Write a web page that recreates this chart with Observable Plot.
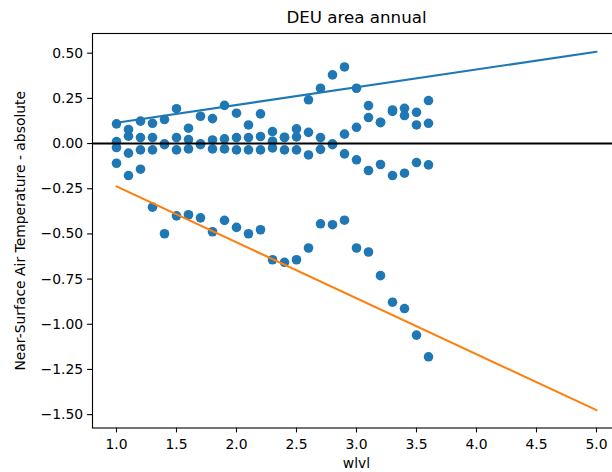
<!DOCTYPE html>
<html>
<head>
<meta charset="utf-8">
<script src="https://cdn.jsdelivr.net/npm/d3@7"></script>
<script src="https://cdn.jsdelivr.net/npm/@observablehq/plot@0.6"></script>
<style>
  html, body { margin: 0; padding: 0; background: #fff; overflow: hidden; }
  #chart { width: 612px; height: 472px; }
</style>
</head>
<body>
<div id="chart"></div>
<script>
const wlvl = [1.0,1.1,1.2,1.3,1.4,1.5,1.6,1.7,1.8,1.9,2.0,2.1,2.2,2.3,2.4,2.5,2.6,2.7,2.8,2.9,3.0,3.1,3.2,3.3,3.4,3.5,3.6];
const upper = [0.109,0.078,0.124,0.112,0.133,0.193,0.085,0.151,0.138,0.211,0.168,0.103,0.164,0.066,0.035,0.081,0.242,0.306,0.380,0.424,0.306,0.210,0.118,0.186,0.195,0.173,0.238];
const midPos = [0.011,0.041,0.033,0.033,-0.002,0.033,0.022,-0.002,0.020,0.026,0.033,0.033,0.039,0.013,0.033,0.037,0.062,0.033,-0.002,0.052,0.090,0.144,0.116,0.178,0.155,0.103,0.112];
const midNeg = [-0.022,-0.053,-0.035,-0.035,-0.006,-0.035,-0.030,-0.006,-0.030,-0.030,-0.035,-0.035,-0.035,-0.024,-0.035,-0.035,-0.063,-0.032,-0.006,-0.057,-0.090,-0.149,-0.116,-0.177,-0.164,-0.105,-0.118];
const lower = [-0.109,-0.177,-0.142,-0.352,-0.499,-0.400,-0.394,-0.411,-0.488,-0.425,-0.464,-0.499,-0.477,-0.643,-0.657,-0.643,-0.578,-0.444,-0.449,-0.424,-0.578,-0.600,-0.731,-0.878,-0.913,-1.060,-1.180];

const fitX = [1.0, 5.0];
const fitUpper = [0.115, 0.508];
const fitLower = [-0.237, -1.475];

const xTicks = [1.0,1.5,2.0,2.5,3.0,3.5,4.0,4.5,5.0];
const yTicks = [-1.5,-1.25,-1.0,-0.75,-0.5,-0.25,0.0,0.25,0.5];

const title = "DEU area annual";
const xLabel = "wlvl";
const yLabel = "Near-Surface Air Temperature - absolute";

const points = [];
[upper, midPos, midNeg, lower].forEach(series => {
  series.forEach((v, i) => points.push({x: wlvl[i], y: v}));
});
const upperLine = fitX.map((x, i) => ({x, y: fitUpper[i]}));
const lowerLine = fitX.map((x, i) => ({x, y: fitLower[i]}));

const FONT = "DejaVu Sans";
const chart = Plot.plot({
  width: 612,
  height: 472,
  marginLeft: 92,
  marginRight: -8,
  marginTop: 33,
  marginBottom: 44.5,
  style: {fontFamily: FONT, fontSize: "13.9px", color: "#000", background: "#fff"},
  x: {domain: [0.8, 5.2]},
  y: {domain: [-1.574, 0.609]},
  marks: [
    Plot.dot(points, {x: "x", y: "y", r: 4.8, fill: "#1f77b4", stroke: "none"}),
    Plot.line(upperLine, {x: "x", y: "y", stroke: "#1f77b4", strokeWidth: 2.1}),
    Plot.line(lowerLine, {x: "x", y: "y", stroke: "#ff7f0e", strokeWidth: 2.1}),
    Plot.ruleY([0], {stroke: "#000", strokeWidth: 2}),
    Plot.frame({stroke: "#000", strokeWidth: 1.1}),
    Plot.axisX({ticks: xTicks, tickFormat: d3.format(".1f"), tickSize: 4.9, tickPadding: 6, fontSize: 13.9, label: null, stroke: "#000", strokeWidth: 1.1, fill: "#000"}),
    Plot.axisY({ticks: yTicks, tickFormat: d3.format(".2f"), tickSize: 4.9, tickPadding: 4.5, fontSize: 13.9, label: null, stroke: "#000", strokeWidth: 1.1, fill: "#000"}),
    Plot.text([title], {frameAnchor: "top", dy: -11, lineAnchor: "bottom", fontSize: 16.7, fill: "#000", textAnchor: "middle"}),
    Plot.text([xLabel], {frameAnchor: "bottom", dy: 35.5, lineAnchor: "middle", fontSize: 13.9, fill: "#000", textAnchor: "middle"}),
    Plot.text([yLabel], {frameAnchor: "left", dx: -72, rotate: -90, textAnchor: "middle", lineAnchor: "middle", fontSize: 13.9, fill: "#000"})
  ]
});
document.getElementById("chart").appendChild(chart);
</script>
</body>
</html>
